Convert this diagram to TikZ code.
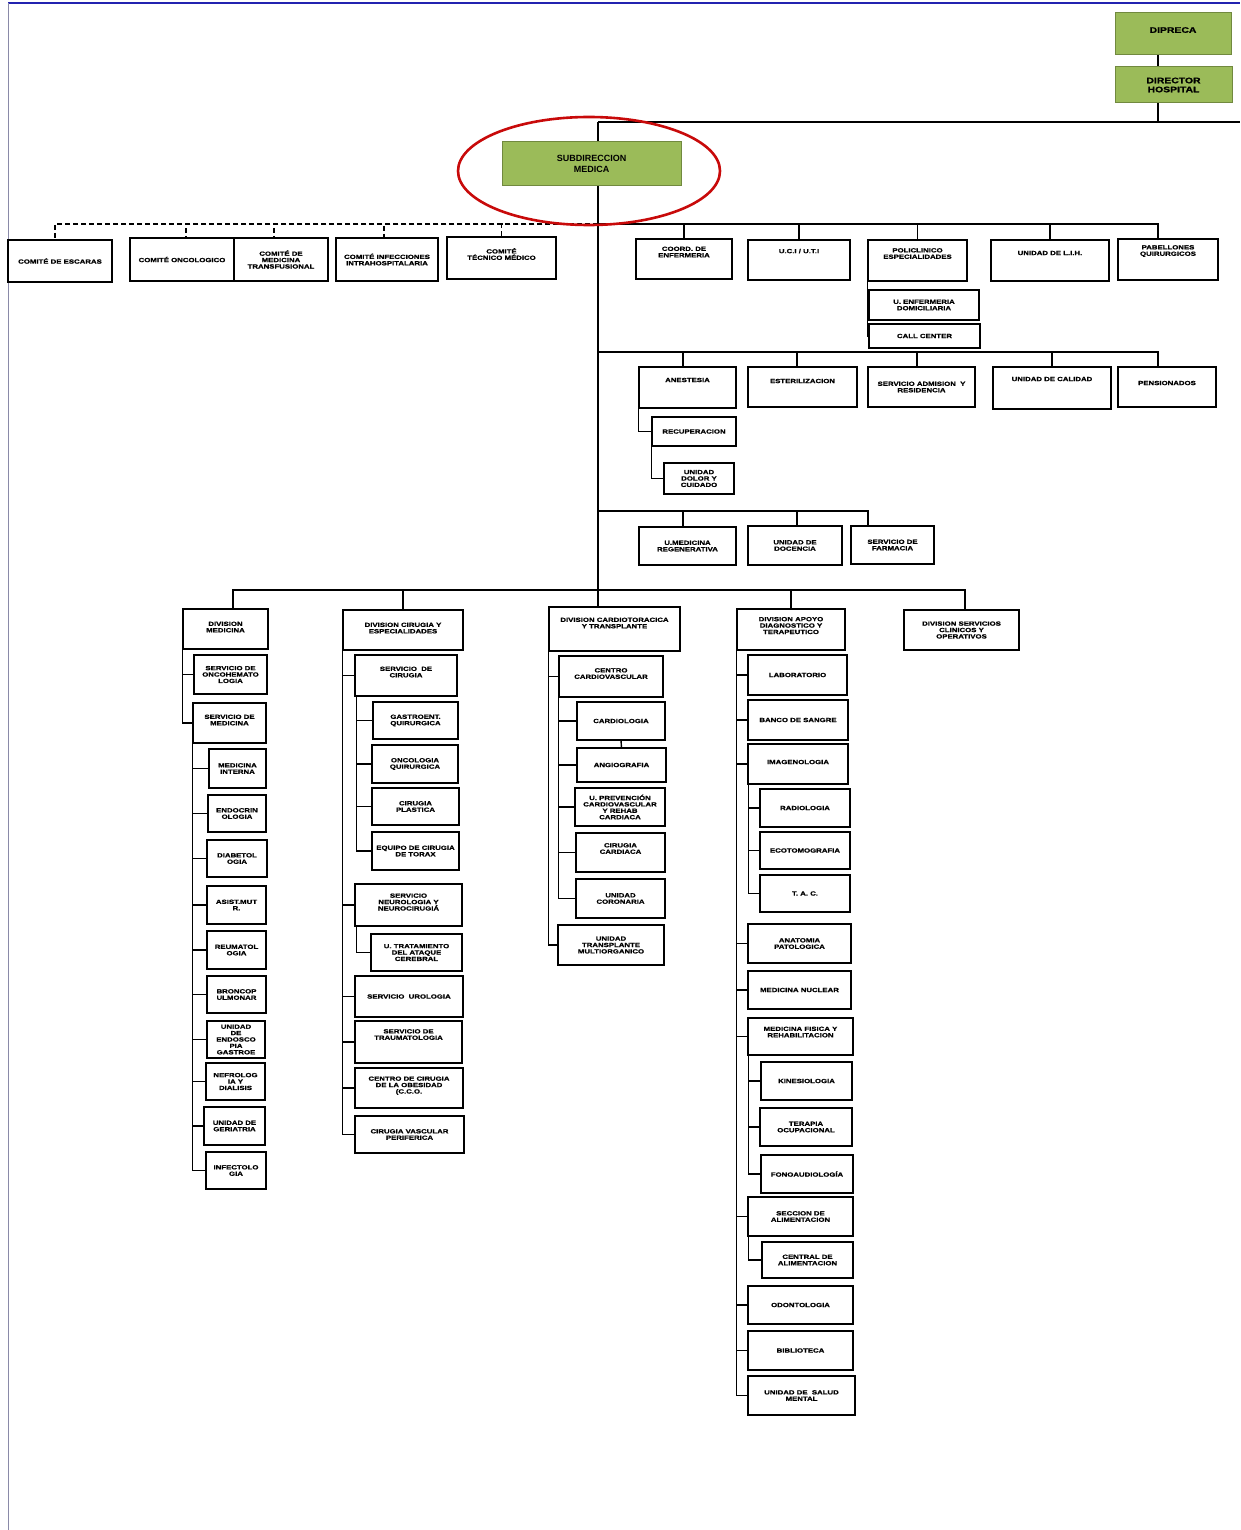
\documentclass[tikz,border=0pt]{standalone}
\usepackage{fontspec}
\setmainfont{Liberation Sans}
\newfontfamily\orgfont[FakeStretch=1.3, BoldFeatures={FakeBold=1}]{Liberation Sans}
\usetikzlibrary{backgrounds}
\definecolor{hdgreen}{HTML}{9BBB59}
\definecolor{hdgreenline}{HTML}{71893F}
\definecolor{markred}{HTML}{C80A0A}
\definecolor{pageblue}{HTML}{2323B0}
\definecolor{pagegray}{HTML}{8A8AA8}

\begin{document}
\begin{tikzpicture}[
    x=1pt, y=-1pt,
    box/.style={draw, line width=1.3pt, fill=white, align=center, inner sep=1pt,
                font=\orgfont\bfseries\fontsize{6}{6.4}\selectfont},
    bx/.style 2 args={box, minimum width=#1pt, minimum height=#2pt},
    head/.style 2 args={draw=hdgreenline, line width=1pt, fill=hdgreen, align=center,
                minimum width=#1pt, minimum height=#2pt,
                font=\orgfont\bfseries\fontsize{8}{9}\selectfont},
    lift/.style={text depth=#1pt},
    conn/.style={line width=1.4pt},
    dconn/.style={line width=1.1pt, dash pattern=on 5pt off 3pt},
    ring/.style={draw=markred, line width=2.6pt}
  ]
    \useasboundingbox (0,0) rectangle (1240,1530);
    \draw[pageblue, line width=1.6pt] (8,3) -- (1240,3);
    \draw[pagegray, line width=0.8pt] (8,3) -- (8,1530);

    \node[head={116}{42}, lift=8] (dipreca)  at (1173,34)   {DIPRECA};
    \node[head={117}{36}]         (director) at (1173.5,85) {DIRECTOR\\HOSPITAL};
    \node[head={179}{44}, font=\bfseries\fontsize{9}{10.5}\selectfont]
                                  (subdir)   at (591.5,164) {SUBDIRECCION\\MEDICA};

    \coordinate (hub)  at (598,122);
    \coordinate (rim)  at (1240,122);
    \coordinate (bus1) at (598,224);
    \coordinate (bus2) at (598,352);
    \coordinate (bus3) at (598,511);
    \coordinate (bus4) at (598,590);

    % comites
    \node[bx={104}{42}] (escaras)  at (60,261)      {COMITÉ DE ESCARAS};
    \node[bx={104}{43}] (oncocom)  at (182,259.5)   {COMITÉ ONCOLOGICO};
    \node[bx={94}{43}]  (transf)   at (281,259.5)   {COMITÉ DE\\MEDICINA\\TRANSFUSIONAL};
    \node[bx={102}{43}] (infecc)   at (387,259.5)   {COMITÉ INFECCIONES\\INTRAHOSPITALARIA};
    \node[bx={109}{42}, lift=8] (tecmed) at (501.5,258) {COMITÉ\\TÉCNICO MÉDICO};

    \node[bx={96}{40}, lift=14]  (coord)  at (684,259)    {COORD. DE\\ENFERMERIA};
    \node[bx={102}{40}, lift=18] (uci)    at (799,260)    {U.C.I / U.T.I};
    \node[bx={99}{41}, lift=14]  (poli)   at (917.5,260.5) {POLICLINICO\\ESPECIALIDADES};
    \node[bx={118}{41}, lift=15] (lih)    at (1050,260.5) {UNIDAD DE L.I.H.};
    \node[bx={100}{41}, lift=18] (pabell) at (1168,259.5) {PABELLONES\\QUIRURGICOS};
    \node[bx={110}{30}] (enfdom) at (924,305)   {U. ENFERMERIA\\DOMICILIARIA};
    \node[bx={111}{24}] (callc)  at (924.5,336) {CALL CENTER};

    \node[bx={97}{41}, lift=15]  (anest)  at (687.5,387.5) {ANESTESIA};
    \node[bx={109}{40}, lift=12] (ester)  at (802.5,387)   {ESTERILIZACION};
    \node[bx={107}{40}]          (admis)  at (921.5,387)   {SERVICIO ADMISION~ Y\\RESIDENCIA};
    \node[bx={118}{42}, lift=18] (calid)  at (1052,388)    {UNIDAD DE CALIDAD};
    \node[bx={98}{40}, lift=8]   (pension) at (1167,387)   {PENSIONADOS};
    \node[bx={84}{29}] (recup) at (694,431.5) {RECUPERACION};
    \node[bx={70}{31}] (dolor) at (699,478.5) {UNIDAD\\DOLOR Y\\CUIDADO};

    \node[bx={97}{38}] (regen) at (687.5,546) {U.MEDICINA\\REGENERATIVA};
    \node[bx={94}{39}] (docen) at (795,545.5) {UNIDAD DE\\DOCENCIA};
    \node[bx={83}{38}] (farma) at (892.5,545) {SERVICIO DE\\FARMACIA};

    % divisiones
    \node[bx={85}{40}, lift=4]   (divmed) at (225.5,629) {DIVISION\\MEDICINA};
    \node[bx={120}{40}, lift=4]  (divcir) at (403,630)   {DIVISION CIRUGIA Y\\ESPECIALIDADES};
    \node[bx={131}{44}, lift=12] (divcar) at (614.5,629) {DIVISION CARDIOTORACICA\\Y TRANSPLANTE};
    \node[bx={108}{41}, lift=8]  (divapo) at (791,629.5) {DIVISION APOYO\\DIAGNOSTICO Y\\TERAPEUTICO};
    \node[bx={115}{40}]          (divser) at (961.5,630) {DIVISION SERVICIOS\\CLINICOS Y\\OPERATIVOS};

    % division medicina
    \node[bx={73}{39}]         (oncohem) at (230.5,674.5) {SERVICIO DE\\ONCOHEMATO\\LOGIA};
    \node[bx={73}{40}, lift=6] (servmed) at (229.5,723)   {SERVICIO DE\\MEDICINA};
    \node[bx={57}{39}] (medint)  at (237.5,768.5) {MEDICINA\\INTERNA};
    \node[bx={58}{37}] (endocr)  at (237,813.5)   {ENDOCRIN\\OLOGIA};
    \node[bx={60}{37}] (diabet)  at (237,858.5)   {DIABETOL\\OGIA};
    \node[bx={59}{38}] (asist)   at (236.5,905)   {ASIST.MUT\\R.};
    \node[bx={59}{38}] (reuma)   at (236.5,950)   {REUMATOL\\OGIA};
    \node[bx={59}{37}] (bronco)  at (236.5,994.5) {BRONCOP\\ULMONAR};
    \node[bx={58}{37}] (endosc)  at (236,1039.5)  {UNIDAD\\DE\\ENDOSCO\\PIA\\GASTROE};
    \node[bx={59}{37}] (nefro)   at (235.5,1081.5) {NEFROLOG\\IA Y\\DIALISIS};
    \node[bx={61}{38}] (geria)   at (234.5,1126)  {UNIDAD DE\\GERIATRIA};
    \node[bx={60}{37}] (infecto) at (236,1170.5)  {INFECTOLO\\GIA};

    % division cirugia
    \node[bx={102}{41}, lift=7] (servcir) at (406,675.5) {SERVICIO~ DE\\CIRUGIA};
    \node[bx={85}{37}] (gastro) at (415.5,720.5) {GASTROENT.\\QUIRURGICA};
    \node[bx={86}{38}] (oncqui) at (415,764)     {ONCOLOGIA\\QUIRURGICA};
    \node[bx={87}{37}] (plast)  at (415.5,806.5) {CIRUGIA\\PLASTICA};
    \node[bx={87}{38}] (torax)  at (415.5,851)   {EQUIPO DE CIRUGIA\\DE TORAX};
    \node[bx={107}{42}, lift=6] (neuro) at (408.5,905) {SERVICIO\\NEUROLOGIA Y\\NEUROCIRUGIÁ};
    \node[bx={91}{37}] (ataque) at (416.5,952.5) {U. TRATAMIENTO\\DEL ATAQUE\\CEREBRAL};
    \node[bx={108}{41}] (urolog) at (409,996.5)  {SERVICIO~ UROLOGIA};
    \node[bx={107}{42}, lift=15] (trauma) at (408.5,1042) {SERVICIO DE\\TRAUMATOLOGIA};
    \node[bx={108}{40}, lift=6] (obesid) at (409,1088) {CENTRO DE CIRUGIA\\DE LA OBESIDAD\\(C.C.O.};
    \node[bx={109}{37}] (vascul) at (409.5,1134.5) {CIRUGIA VASCULAR\\PERIFERICA};

    % division cardiotoracica
    \node[bx={104}{41}, lift=6] (cencar) at (611,676.5) {CENTRO\\CARDIOVASCULAR};
    \node[bx={88}{38}] (cardio) at (621,721)     {CARDIOLOGIA};
    \node[bx={89}{34}] (angio)  at (621.5,765)   {ANGIOGRAFIA};
    \node[bx={90}{38}] (prevenc) at (620,807)    {U. PREVENCIÓN\\CARDIOVASCULAR\\Y REHAB\\CARDIACA};
    \node[bx={89}{39}, lift=8] (circar) at (620.5,852.5) {CIRUGIA\\CARDIACA};
    \node[bx={89}{39}] (corona) at (620.5,898.5) {UNIDAD\\CORONARIA};
    \node[bx={106}{40}] (transpl) at (611,945)   {UNIDAD\\TRANSPLANTE\\MULTIORGANICO};

    % division apoyo
    \node[bx={99}{40}]  (labor)  at (797.5,675)  {LABORATORIO};
    \node[bx={100}{40}] (banco)  at (798,720)    {BANCO DE SANGRE};
    \node[bx={100}{40}, lift=4] (imagen) at (798,764) {IMAGENOLOGIA};
    \node[bx={90}{38}]  (radiol) at (805,808)    {RADIOLOGIA};
    \node[bx={90}{37}]  (ecoto)  at (805,850.5)  {ECOTOMOGRAFIA};
    \node[bx={90}{37}]  (tac)    at (805,893.5)  {T. A. C.};
    \node[bx={103}{39}] (anatom) at (799.5,943.5) {ANATOMIA\\PATOLOGICA};
    \node[bx={103}{38}] (nuclear) at (799.5,990) {MEDICINA NUCLEAR};
    \node[bx={105}{37}, lift=9] (fisica) at (800.5,1036.5) {MEDICINA FISICA Y\\REHABILITACION};
    \node[bx={91}{38}]  (kinesio) at (806.5,1081) {KINESIOLOGIA};
    \node[bx={92}{38}]  (terapia) at (806,1127)   {TERAPIA\\OCUPACIONAL};
    \node[bx={92}{38}]  (fonoau)  at (807,1174)   {FONOAUDIOLOGÍA};
    \node[bx={105}{39}] (secali)  at (800.5,1216.5) {SECCION DE\\ALIMENTACION};
    \node[bx={91}{36}]  (cenali)  at (807.5,1260) {CENTRAL DE\\ALIMENTACION};
    \node[bx={105}{38}] (odonto)  at (800.5,1305) {ODONTOLOGIA};
    \node[bx={105}{39}] (biblio)  at (800.5,1350.5) {BIBLIOTECA};
    \node[bx={107}{39}] (saludm)  at (801.5,1395.5) {UNIDAD DE~ SALUD\\MENTAL};

    \begin{scope}[on background layer]
      \draw[conn] ([xshift=-15pt]dipreca.south) -- ([xshift=-15pt]dipreca.south |- director.north);
      \draw[conn] ([xshift=-15.5pt]director.south) |- (hub);
      \draw[conn] (hub) -- (rim);
      \draw[conn] (hub) -- (bus4);

      \draw[dconn] (bus1) -| ([xshift=-5pt]escaras.north);
      \draw[dconn] (bus1) -| ([xshift=4pt]oncocom.north);
      \draw[dconn] (bus1) -| ([xshift=-7pt]transf.north);
      \draw[dconn] (bus1) -| ([xshift=-3pt]infecc.north);
      \draw[dconn] (bus1) -| (tecmed.north);

      \draw[conn] (bus1) -| (coord.north);
      \draw[conn] (bus1) -| (uci.north);
      \draw[conn] (bus1) -| (poli.north);
      \draw[conn] (bus1) -| (lih.north);
      \draw[conn] (bus1) -| ([xshift=-10pt]pabell.north);
      \draw[conn] (poli.south west) |- (enfdom.west);
      \draw[conn] (poli.south west) |- (callc.west);

      \draw[conn] (bus2) -| ([xshift=-4.5pt]anest.north);
      \draw[conn] (bus2) -| ([xshift=-5.5pt]ester.north);
      \draw[conn] (bus2) -| ([xshift=-4.5pt]admis.north);
      \draw[conn] (bus2) -| (calid.north);
      \draw[conn] (bus2) -| ([xshift=-9pt]pension.north);
      \draw[conn] (anest.south west) |- (recup.west);
      \draw[conn] (recup.south west) |- (dolor.west);

      \draw[conn] (bus3) -| ([xshift=-4.5pt]regen.north);
      \draw[conn] (bus3) -| ([xshift=2pt]docen.north);
      \draw[conn] (bus3) -| ([xshift=-24.5pt]farma.north);

      \draw[conn] (bus4) -| ([xshift=7.5pt]divmed.north);
      \draw[conn] (bus4) -| (divcir.north);
      \draw[conn] (bus4) -- (bus4 |- divcar.north);
      \draw[conn] (bus4) -| (divapo.north);
      \draw[conn] (bus4) -| ([xshift=3.5pt]divser.north);

      \draw[conn] (divmed.south west) |- (oncohem.west);
      \draw[conn] (divmed.south west) |- (servmed.west);
      \draw[conn] (servmed.south west) |- (medint.west);
      \draw[conn] (servmed.south west) |- (endocr.west);
      \draw[conn] (servmed.south west) |- (diabet.west);
      \draw[conn] (servmed.south west) |- (asist.west);
      \draw[conn] (servmed.south west) |- (reuma.west);
      \draw[conn] (servmed.south west) |- (bronco.west);
      \draw[conn] (servmed.south west) |- (endosc.west);
      \draw[conn] (servmed.south west) |- (nefro.west);
      \draw[conn] (servmed.south west) |- (geria.west);
      \draw[conn] (servmed.south west) |- (infecto.west);

      \draw[conn] (divcir.south west) |- (servcir.west);
      \draw[conn] (divcir.south west) |- (neuro.west);
      \draw[conn] (divcir.south west) |- (urolog.west);
      \draw[conn] (divcir.south west) |- (trauma.west);
      \draw[conn] (divcir.south west) |- (obesid.west);
      \draw[conn] (divcir.south west) |- (vascul.west);
      \draw[conn] ([xshift=2pt]servcir.south west) |- (gastro.west);
      \draw[conn] ([xshift=2pt]servcir.south west) |- (oncqui.west);
      \draw[conn] ([xshift=2pt]servcir.south west) |- (plast.west);
      \draw[conn] ([xshift=2pt]servcir.south west) |- (torax.west);
      \draw[conn] ([xshift=2pt]neuro.south west) |- (ataque.west);

      \draw[conn] (divcar.south west) |- (cencar.west);
      \draw[conn] (divcar.south west) |- (transpl.west);
      \draw[conn] (cencar.south west) |- (cardio.west);
      \draw[conn] (cencar.south west) |- (angio.west);
      \draw[conn] (cencar.south west) |- (prevenc.west);
      \draw[conn] (cencar.south west) |- (circar.west);
      \draw[conn] (cencar.south west) |- (corona.west);
      \draw[conn] (cardio.south) -- (angio.north);

      \draw[conn] (divapo.south west) |- (labor.west);
      \draw[conn] (divapo.south west) |- (banco.west);
      \draw[conn] (divapo.south west) |- (imagen.west);
      \draw[conn] (divapo.south west) |- (anatom.west);
      \draw[conn] (divapo.south west) |- (nuclear.west);
      \draw[conn] (divapo.south west) |- (fisica.west);
      \draw[conn] (divapo.south west) |- (secali.west);
      \draw[conn] (divapo.south west) |- (odonto.west);
      \draw[conn] (divapo.south west) |- (biblio.west);
      \draw[conn] (divapo.south west) |- (saludm.west);
      \draw[conn] ([xshift=1pt]imagen.south west) |- (radiol.west);
      \draw[conn] ([xshift=1pt]imagen.south west) |- (ecoto.west);
      \draw[conn] ([xshift=1pt]imagen.south west) |- (tac.west);
      \draw[conn] ([xshift=1pt]fisica.south west) |- (kinesio.west);
      \draw[conn] ([xshift=1pt]fisica.south west) |- (terapia.west);
      \draw[conn] ([xshift=1pt]fisica.south west) |- (fonoau.west);
      \draw[conn] ([xshift=1pt]secali.south west) |- (cenali.west);
    \end{scope}

    \draw[ring] (589,171) ellipse [x radius=131pt, y radius=54pt];
  \end{tikzpicture}
\end{document}
